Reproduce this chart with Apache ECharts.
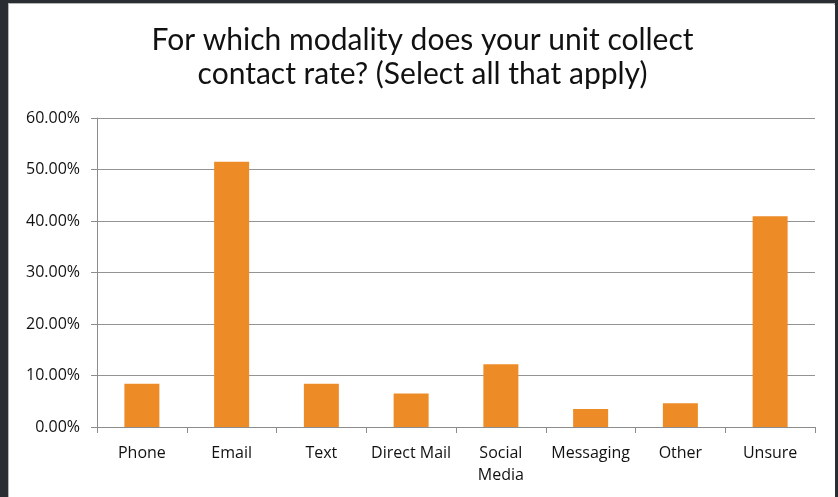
<!DOCTYPE html>
<html>
<head>
  <meta charset="utf-8">
  <title>contact rate modality</title>
  <style>
    html, body { margin: 0; padding: 0; background: #2a2e32; }
    #frame {
      position: absolute; left: 8px; top: 3px;
      width: 827px; height: 494px;
      background: #fff; border: 1px solid #b5b5b5; border-bottom: none;
      box-sizing: border-box;
    }
    #main {
      position: absolute; left: 1px; top: 1px;
      width: 825px; height: 493px;
    }
  </style>
</head>
<body>
<div id="frame"><div id="main"></div></div>
<script src="https://cdn.jsdelivr.net/npm/echarts@6/dist/echarts.min.js"></script>
<script>
var categories = ["Phone", "Email", "Text", "Direct Mail", "Social\nMedia", "Messaging", "Other", "Unsure"];
var shares = [8.4, 51.5, 8.4, 6.5, 12.2, 3.5, 4.6, 40.9];
var yTicks = [0, 10, 20, 30, 40, 50, 60];

var myChart = echarts.init(document.getElementById("main"));

var font = "'Open Sans', sans-serif";

myChart.setOption({
  animation: false,
  backgroundColor: "#fff",
  title: {
    text: "For which modality does your unit collect\ncontact rate? (Select all that apply)",
    left: "center",
    top: 13,
    textStyle: {
      fontFamily: "Lato, sans-serif",
      fontWeight: "normal",
      fontSize: 30,
      lineHeight: 34,
      color: "#111"
    }
  },
  grid: {
    left: 87,
    right: 20,
    top: 113,
    bottom: 71
  },
  xAxis: {
    type: "category",
    data: categories,
    axisLine: { lineStyle: { color: "#8c8c8c", width: 1 } },
    axisTick: { show: true, length: 6, alignWithLabel: false, lineStyle: { color: "#8c8c8c" } },
    axisLabel: {
      interval: 0,
      margin: 15,
      fontFamily: font,
      fontSize: 16,
      lineHeight: 22,
      color: "#111"
    }
  },
  yAxis: {
    type: "value",
    min: yTicks[0],
    max: yTicks[yTicks.length - 1],
    interval: 10,
    axisLine: { show: true, lineStyle: { color: "#8c8c8c", width: 1 } },
    axisTick: { show: true, length: 6, lineStyle: { color: "#8c8c8c" } },
    splitLine: { lineStyle: { color: "#939393", width: 1 } },
    axisLabel: {
      margin: 17,
      fontFamily: font,
      fontSize: 16,
      color: "#111",
      formatter: function (v) { return v.toFixed(2) + "%"; }
    }
  },
  series: [{
    type: "bar",
    data: shares,
    barWidth: 35,
    itemStyle: { color: "#ED8B26" }
  }]
});
</script>
</body>
</html>
